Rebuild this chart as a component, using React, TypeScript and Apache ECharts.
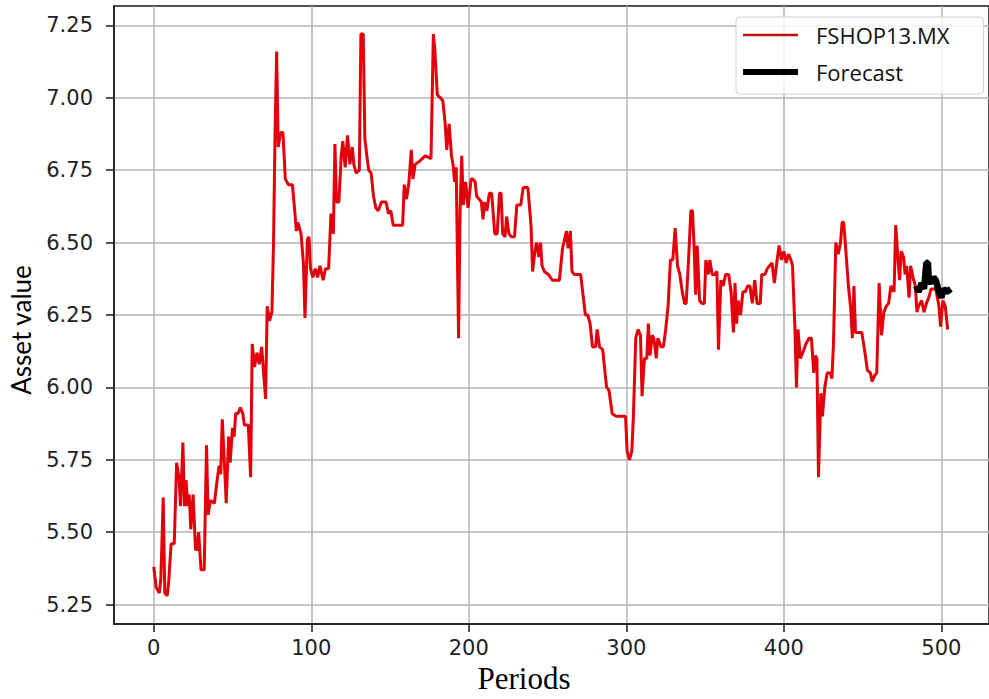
import React, { useEffect, useRef } from "react";
import * as echarts from "echarts";

// FSHOP13.MX observed series (period, asset value)
const periods = [
  0, 1.5, 3.5, 4.5, 6, 7, 8.5, 9.5, 11, 13, 14.5, 16, 17, 18.5, 19.5, 20.5, 21.5, 22.5, 23.5, 25,
  26.5, 27.5, 28.5, 30, 32, 33.5, 34.5, 36, 38.5, 40, 41.5, 42.5, 43.5, 45, 46, 47.5, 48.5, 50, 51, 52,
  53.5, 55, 56.5, 57.5, 60, 61.5, 62.5, 64, 65.5, 67, 68.5, 71, 72, 73.5, 75, 76, 77, 78, 79, 80.5,
  82, 83.5, 85.5, 88, 89.5, 90.5, 91.5, 93.5, 95, 96, 97.5, 98.5, 99.5, 101, 102.5, 104, 105.5, 107.5, 109, 111,
  112.5, 114, 115, 116, 117.5, 119, 120, 121.5, 123, 124.5, 126, 127, 128.5, 130.5, 131.5, 133, 134, 135.5, 136.5, 138,
  139.5, 141, 142.5, 144.5, 147.5, 149, 150.5, 152, 155, 158, 159, 160.5, 162, 163.5, 164.5, 166, 168.5, 170.5, 172.5, 176,
  177.5, 178.5, 180, 182, 183.5, 185, 186, 187.5, 189, 190, 191, 192, 193.5, 194.5, 195.5, 196.5, 198, 199.5, 201.5, 202.5,
  204, 205, 206.5, 208, 209, 210, 211.5, 213, 214.5, 216.5, 218, 219.5, 220.5, 221.5, 223, 224, 225.5, 227, 229, 230.5,
  233, 234.5, 237.5, 239.5, 240.5, 242, 243, 244.5, 245.5, 246.5, 248, 250.5, 253, 255.5, 257.5, 259.5, 262, 263, 264.5, 265.5,
  267, 269, 271, 272.5, 274, 275.5, 277, 278.5, 280.5, 281.5, 283, 285, 286.5, 287.5, 289, 291, 293.5, 296, 299.5, 300.5,
  302, 303.5, 304.5, 306, 307.5, 309, 310, 311.5, 313, 314, 315, 316.5, 317.5, 319, 320, 322, 323.5, 325, 326.5, 328,
  329.5, 331, 332.5, 334, 335.5, 337, 338, 339.5, 341, 342, 343, 344, 345, 346.5, 348, 349.5, 350.5, 352, 353, 354.5,
  356, 357.5, 358.5, 360, 361.5, 363, 365, 366.5, 368, 369, 370, 371, 372.5, 374, 375.5, 377, 378.5, 380, 381.5, 383,
  385, 386, 388, 389.5, 391, 392.5, 394, 395.5, 397, 398.5, 400, 401.5, 403, 404.5, 405.5, 407, 408, 409, 410.5, 412,
  414, 416, 417.5, 419, 420, 421, 422, 423.5, 424.5, 426, 427.5, 429.5, 430.5, 431.5, 433, 434.5, 436, 437, 438, 439,
  441, 442.5, 443.5, 444.5, 445.5, 447.5, 449.5, 451.5, 453, 455, 456, 457.5, 459, 460.5, 462, 463.5, 465, 466.5, 468, 470,
  471, 472.5, 473.5, 474.5, 476, 477, 478, 479.5, 480.5, 482, 483.5, 484.5, 485.5, 487.5, 489, 490.5, 492, 493.5, 496.5, 498.5,
  499.5, 501, 502.5, 504,
];
const values = [
  5.38, 5.31, 5.29, 5.34, 5.62, 5.29, 5.28, 5.33, 5.46, 5.46, 5.74, 5.69, 5.59, 5.81, 5.59, 5.68, 5.59, 5.63, 5.51, 5.63,
  5.44, 5.44, 5.5, 5.37, 5.37, 5.8, 5.56, 5.61, 5.6, 5.67, 5.73, 5.7, 5.89, 5.72, 5.6, 5.83, 5.74, 5.86, 5.83, 5.91,
  5.91, 5.93, 5.91, 5.87, 5.87, 5.69, 6.15, 6.07, 6.12, 6.08, 6.14, 5.96, 6.28, 6.23, 6.26, 6.49, 6.88, 7.16, 6.83, 6.88,
  6.88, 6.72, 6.7, 6.7, 6.61, 6.54, 6.57, 6.53, 6.43, 6.24, 6.51, 6.52, 6.41, 6.38, 6.41, 6.38, 6.42, 6.37, 6.41, 6.41,
  6.6, 6.53, 6.84, 6.64, 6.64, 6.8, 6.85, 6.76, 6.87, 6.77, 6.83, 6.77, 6.74, 6.75, 7.22, 7.22, 6.86, 6.79, 6.75, 6.74,
  6.66, 6.62, 6.61, 6.64, 6.64, 6.6, 6.61, 6.56, 6.56, 6.56, 6.7, 6.65, 6.71, 6.82, 6.72, 6.77, 6.78, 6.79, 6.8, 6.79,
  7.22, 7.16, 7.01, 7.0, 6.99, 6.91, 6.82, 6.91, 6.8, 6.77, 6.71, 6.76, 6.17, 6.62, 6.8, 6.63, 6.71, 6.62, 6.72, 6.72,
  6.71, 6.66, 6.65, 6.64, 6.58, 6.64, 6.61, 6.67, 6.67, 6.53, 6.53, 6.67, 6.67, 6.53, 6.52, 6.59, 6.53, 6.52, 6.52, 6.63,
  6.63, 6.69, 6.69, 6.56, 6.4, 6.47, 6.5, 6.45, 6.5, 6.42, 6.4, 6.39, 6.37, 6.37, 6.37, 6.48, 6.54, 6.48, 6.54, 6.4,
  6.39, 6.39, 6.39, 6.32, 6.25, 6.25, 6.22, 6.14, 6.14, 6.2, 6.14, 6.13, 6.05, 6.0, 5.99, 5.91, 5.9, 5.9, 5.9, 5.78,
  5.75, 5.78, 5.9, 6.17, 6.2, 6.18, 5.97, 6.1, 6.1, 6.22, 6.11, 6.18, 6.17, 6.1, 6.17, 6.14, 6.14, 6.2, 6.28, 6.44,
  6.44, 6.55, 6.42, 6.39, 6.33, 6.29, 6.29, 6.44, 6.61, 6.61, 6.49, 6.32, 6.49, 6.3, 6.29, 6.29, 6.44, 6.39, 6.44, 6.39,
  6.39, 6.4, 6.13, 6.37, 6.35, 6.39, 6.39, 6.33, 6.19, 6.36, 6.22, 6.3, 6.25, 6.33, 6.33, 6.35, 6.35, 6.29, 6.37, 6.29,
  6.29, 6.39, 6.39, 6.41, 6.42, 6.43, 6.36, 6.43, 6.49, 6.44, 6.47, 6.43, 6.46, 6.44, 6.42, 6.21, 6.0, 6.2, 6.1, 6.12,
  6.15, 6.17, 6.17, 6.05, 6.11, 6.1, 5.69, 5.98, 5.9, 6.0, 6.05, 6.05, 6.03, 6.15, 6.5, 6.46, 6.5, 6.57, 6.57, 6.5,
  6.35, 6.27, 6.17, 6.35, 6.19, 6.19, 6.19, 6.12, 6.06, 6.05, 6.02, 6.04, 6.05, 6.36, 6.18, 6.26, 6.28, 6.29, 6.35, 6.33,
  6.56, 6.44, 6.37, 6.47, 6.45, 6.39, 6.42, 6.31, 6.42, 6.38, 6.35, 6.26, 6.28, 6.3, 6.26, 6.29, 6.31, 6.34, 6.34, 6.28,
  6.21, 6.3, 6.28, 6.2,
];

// Forecast series
const forecastPeriods = [484, 485.5, 487.5, 489, 490.5, 491.5, 492, 493.5, 495, 496.5, 498.5, 500, 501.5, 503.5, 506];
const forecastValues = [6.35, 6.33, 6.36, 6.34, 6.43, 6.43, 6.37, 6.36, 6.38, 6.37, 6.33, 6.31, 6.34, 6.33, 6.34];

const xTicks = [0, 100, 200, 300, 400, 500];
const yTicks = [5.25, 5.5, 5.75, 6.0, 6.25, 6.5, 6.75, 7.0, 7.25];

const seriesNames = ["FSHOP13.MX", "Forecast"];
const xName = "Periods";
const yName = "Asset value";

export default function App() {
  const ref = useRef<HTMLDivElement>(null);

  useEffect(() => {
    if (!ref.current) return;
    document.body.style.margin = "0";
    const chart = echarts.init(ref.current, undefined, { renderer: "svg" });
    const obs = periods.map((p, i) => [p, values[i]]);
    const fc = forecastPeriods.map((p, i) => [p, forecastValues[i]]);
    const tickFont = "DejaVu Sans";
    chart.setOption({
      animation: false,
      backgroundColor: "#ffffff",
      grid: {
        left: 114,
        top: 6,
        width: 884,
        height: 621,
        show: true,
        borderColor: "#1a1a1a",
        borderWidth: 1.5,
        backgroundColor: "transparent",
      },
      legend: {
        orient: "vertical",
        left: 736,
        top: 17,
        padding: [7, 34, 11, 7],
        itemWidth: 55,
        itemHeight: 20,
        itemGap: 15,
        borderColor: "#d0d0d0",
        borderWidth: 1,
        borderRadius: 4,
        backgroundColor: "rgba(255,255,255,0.8)",
        textStyle: {
          fontFamily: "Open Sans",
          fontSize: 22,
          color: "#111",
          padding: [0, 0, 0, 13],
        },
        data: [
          { name: seriesNames[0], icon: "path://M0,0H55V2.5H0Z", itemStyle: { color: "#c01010" } },
          { name: seriesNames[1], icon: "path://M0,0H55V6H0Z", itemStyle: { color: "#000000" } },
        ],
      },
      xAxis: {
        type: "value",
        min: -25.25,
        max: 530.25,
        name: xName,
        nameLocation: "middle",
        nameGap: 39,
        nameTextStyle: {
          fontFamily: "Liberation Serif",
          fontSize: 31,
          color: "#000",
          padding: [0, 55, 0, 0],
        },
        axisLine: { show: true, onZero: false, lineStyle: { color: "#1a1a1a", width: 1.5 } },
        axisTick: { show: true, length: 8, customValues: xTicks, lineStyle: { color: "#1a1a1a", width: 1.5 } },
        axisLabel: {
          customValues: xTicks,
          fontFamily: tickFont,
          fontSize: 21,
          color: "#222",
          margin: 13,
          formatter: (v: number) => String(v),
        },
        splitLine: { show: true, lineStyle: { color: "#b4b4b4", width: 1.5 } },
      },
      yAxis: {
        type: "value",
        min: 5.183,
        max: 7.317,
        name: yName,
        nameLocation: "middle",
        nameGap: 80,
        nameTextStyle: {
          fontFamily: "Lato",
          fontSize: 26,
          color: "#000",
          padding: [0, 30, 0, 0],
        },
        axisLine: { show: true, onZero: false, lineStyle: { color: "#1a1a1a", width: 1.5 } },
        axisTick: { show: true, length: 8, customValues: yTicks, lineStyle: { color: "#1a1a1a", width: 1.5 } },
        axisLabel: {
          customValues: yTicks,
          fontFamily: tickFont,
          fontSize: 21,
          color: "#222",
          margin: 21,
          formatter: (v: number) => v.toFixed(2),
        },
        splitLine: { show: true, lineStyle: { color: "#b4b4b4", width: 1.5 } },
      },
      series: [
        {
          name: seriesNames[0],
          type: "line",
          data: obs,
          symbol: "none",
          lineStyle: { color: "#e3000b", width: 3 },
          itemStyle: { color: "#e3000b" },
          z: 2,
        },
        {
          name: seriesNames[1],
          type: "line",
          data: fc,
          symbol: "none",
          lineStyle: { color: "#000000", width: 6.5 },
          itemStyle: { color: "#000000" },
          z: 3,
        },
      ],
    });
    return () => chart.dispose();
  }, []);

  return (
    <div
      ref={ref}
      style={{ position: "absolute", left: 0, top: 0, width: 989, height: 699 }}
    />
  );
}
